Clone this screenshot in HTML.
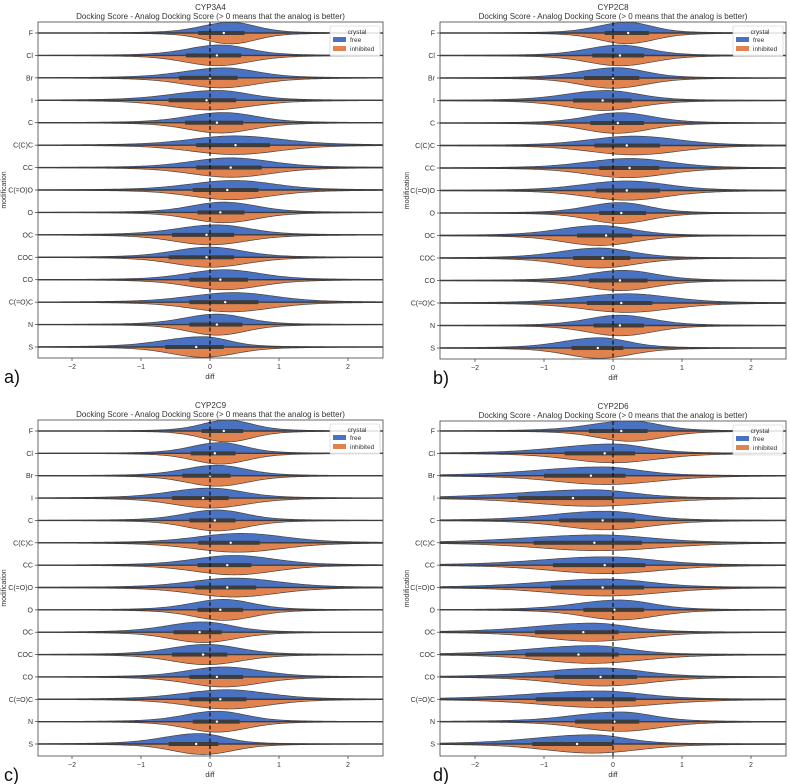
<!DOCTYPE html>
<html><head><meta charset="utf-8"><style>
html,body{margin:0;padding:0;background:#fff;}
svg{display:block;font-family:"Liberation Sans","DejaVu Sans",sans-serif;}
</style></head><body>
<svg id="fig" width="790" height="784" viewBox="0 0 790 784" xmlns="http://www.w3.org/2000/svg"></svg>
<script>
const categories = ["F","Cl","Br","I","C","C(C)C","CC","C(=O)O","O","OC","COC","CO","C(=O)C","N","S"];
const xTicks = [-2,-1,0,1,2];
const xTickLabels = ["\u22122","\u22121","0","1","2"];
const panelTitles = ["CYP3A4","CYP2C8","CYP2C9","CYP2D6"];
const panelLetters = ["a)","b)","c)","d)"];

// Panel a CYP3A4
const aFreeMode=[.3,.15,.2,.1,.2,.35,.3,.35,.2,.1,0,.2,.35,.1,-.1];
const aFreeSdL=[.4,.45,.55,.6,.5,.6,.55,.6,.45,.55,.5,.5,.6,.45,.55];
const aFreeSdR=[.35,.4,.45,.45,.45,.65,.55,.55,.45,.45,.45,.5,.55,.4,.35];
const aInhMode=[.3,.1,.15,0,.15,.35,.3,.3,.2,0,0,.2,.3,.1,-.1];
const aInhSd=[.35,.45,.5,.55,.45,.6,.55,.55,.45,.5,.5,.5,.55,.4,.45];
const aQ1=[-.17,-.35,-.45,-.6,-.36,-.2,-.2,-.25,-.18,-.55,-.6,-.3,-.3,-.3,-.65];
const aMed=[.2,.1,0,-.05,.1,.37,.3,.25,.15,-.05,-.05,.15,.22,.1,-.2];
const aQ3=[.5,.45,.4,.38,.48,.87,.75,.7,.5,.35,.35,.55,.7,.47,.2];
// Panel b CYP2C8
const bFreeMode=[.2,.1,.05,-.1,.1,.3,.25,.2,.1,-.2,-.2,.15,.2,.1,-.2];
const bFreeSdL=[.4,.45,.5,.55,.45,.6,.6,.6,.45,.55,.55,.5,.65,.45,.5];
const bFreeSdR=[.35,.4,.4,.45,.45,.6,.55,.55,.4,.45,.45,.45,.6,.45,.4];
const bInhMode=[.2,.1,0,-.15,.05,.3,.2,.2,.1,-.2,-.2,.1,.2,.1,-.2];
const bInhSd=[.38,.45,.45,.5,.45,.6,.55,.55,.42,.5,.5,.48,.6,.45,.45];
const bQ1=[-.12,-.3,-.42,-.58,-.33,-.27,-.2,-.25,-.2,-.52,-.58,-.35,-.38,-.28,-.6];
const bMed=[.22,.1,0,-.15,.07,.2,.24,.2,.12,-.1,-.15,.1,.12,.1,-.22];
const bQ3=[.52,.45,.38,.27,.45,.68,.67,.68,.48,.28,.25,.5,.57,.45,.15];
// Panel c CYP2C9
const cFreeMode=[.25,.15,.1,0,.1,.45,.35,.35,.2,-.1,-.05,.2,.25,.1,-.15];
const cFreeSdL=[.35,.4,.45,.55,.45,.6,.55,.6,.45,.5,.5,.5,.6,.45,.5];
const cFreeSdR=[.35,.35,.4,.45,.4,.6,.55,.6,.4,.4,.45,.5,.55,.4,.35];
const cInhMode=[.25,.15,.1,0,.1,.4,.35,.35,.2,-.1,-.05,.2,.25,.1,-.1];
const cInhSd=[.35,.38,.42,.5,.42,.6,.55,.58,.42,.45,.48,.5,.55,.42,.42];
const cQ1=[-.12,-.28,-.4,-.55,-.3,-.17,-.18,-.22,-.18,-.53,-.55,-.3,-.3,-.25,-.6];
const cMed=[.2,.07,0,-.1,.07,.3,.25,.25,.15,-.15,-.1,.1,.15,.1,-.2];
const cQ3=[.48,.37,.3,.27,.37,.72,.6,.67,.48,.17,.25,.48,.53,.43,.12];
// Panel d CYP2D6
const dFreeMode=[.25,0,-.15,-.3,-.1,-.2,-.1,-.1,.1,-.3,-.3,-.15,-.2,.1,-.3];
const dFreeSdL=[.55,.75,.9,1.0,.75,1.0,.9,.9,.6,.8,.85,.8,.95,.65,.8];
const dFreeSdR=[.4,.45,.5,.55,.5,.7,.65,.6,.45,.5,.5,.55,.6,.45,.45];
const dInhMode=[.25,0,-.1,-.3,-.1,-.2,-.1,-.1,.1,-.3,-.3,-.15,-.2,.1,-.3];
const dInhSd=[.45,.6,.7,.8,.6,.85,.75,.75,.5,.65,.7,.65,.8,.55,.65];
const dQ1=[-.35,-.7,-1.0,-1.38,-.78,-1.15,-.87,-.9,-.43,-1.13,-1.27,-.85,-1.12,-.55,-1.17];
const dMed=[.12,-.12,-.32,-.58,-.15,-.27,-.12,-.15,.02,-.43,-.5,-.18,-.3,.02,-.52];
const dQ3=[.5,.32,.18,0,.32,.42,.47,.45,.45,.08,.08,.35,.33,.38,0];

const panelData=[
 {fm:aFreeMode,fl:aFreeSdL,fr:aFreeSdR,im:aInhMode,is:aInhSd,q1:aQ1,md:aMed,q3:aQ3},
 {fm:bFreeMode,fl:bFreeSdL,fr:bFreeSdR,im:bInhMode,is:bInhSd,q1:bQ1,md:bMed,q3:bQ3},
 {fm:cFreeMode,fl:cFreeSdL,fr:cFreeSdR,im:cInhMode,is:cInhSd,q1:cQ1,md:cMed,q3:cQ3},
 {fm:dFreeMode,fl:dFreeSdL,fr:dFreeSdR,im:dInhMode,is:dInhSd,q1:dQ1,md:dMed,q3:dQ3}
];
const layouts=[
 {L:38,R:383,T:22,B:358,x0:210,yF:33,yS:347,ox:0,oy:0},
 {L:440,R:786,T:22,B:359,x0:613,yF:33,yS:348,ox:403,oy:0},
 {L:38,R:383,T:420,B:756,x0:210,yF:431,yS:744,ox:0,oy:398},
 {L:440,R:786,T:421,B:756,x0:613,yF:431,yS:744,ox:403,oy:398}
];
const NS="http://www.w3.org/2000/svg";
const svg=document.getElementById("fig");
function mk(tag,attrs,parent){const e=document.createElementNS(NS,tag);for(const k in attrs)e.setAttribute(k,attrs[k]);(parent||svg).appendChild(e);return e;}
function dens(v,m,sl,sr){const s=v<m?sl:sr;const z=(v-m)/s;return 0.85*Math.exp(-z*z/2)+0.15*Math.exp(-z*z/(2*6.25));}

layouts.forEach((Lo,p)=>{
  const D=panelData[p];
  const unit=69;
  const xs=v=>Lo.x0+v*unit;
  const ys=i=>Lo.yF+i*(Lo.yS-Lo.yF)/(categories.length-1);
  const g=mk("g",{});
  
  
  const cid="clip"+p;
  const cp=mk("clipPath",{id:cid},g);mk("rect",{x:Lo.L,y:Lo.T,width:Lo.R-Lo.L,height:Lo.B-Lo.T},cp);
  const plot=mk("g",{"clip-path":"url(#"+cid+")"},g);
  const vmin=(Lo.L-Lo.x0)/unit, vmax=(Lo.R-Lo.x0)/unit;
  categories.forEach((c,i)=>{
    const cy=ys(i);
    const hf=Math.max(7.5,13-3*(D.fl[i]+D.fr[i]));
    const hi=Math.max(7.5,13-3*(2*D.is[i]));
    let top="",bot="";
    for(let k=0;k<=160;k++){const v=vmin+(vmax-vmin)*k/160;
      top+=(k?"L":"M")+xs(v).toFixed(1)+","+(cy-hf*dens(v,D.fm[i],D.fl[i],D.fr[i])).toFixed(2);
      bot+=(k?"L":"M")+xs(v).toFixed(1)+","+(cy+hi*dens(v,D.im[i],D.is[i],D.is[i])).toFixed(2);}
    const f=mk("path",{d:top+"L"+Lo.R+","+cy+"L"+Lo.L+","+cy+"Z",fill:"#4a72c2",stroke:"#444",
      "stroke-width":"0.7"},plot);
    
    
    const h=mk("path",{d:bot+"L"+Lo.R+","+cy+"L"+Lo.L+","+cy+"Z",fill:"#e1834e",stroke:"#444","stroke-width":"0.7"},plot);
    
    
    mk("line",{x1:Lo.L,x2:Lo.R,y1:cy,y2:cy,stroke:"#3d3d3d","stroke-width":"1.4"},plot);
    const bx=mk("rect",{x:xs(D.q1[i]),y:cy-2,width:(D.q3[i]-D.q1[i])*unit,height:4,fill:"#3d3d3d"},plot);
    
    
    mk("circle",{cx:xs(D.md[i]),cy:cy,r:1.2,fill:"#fff"},plot);
    mk("line",{x1:Lo.L-3,x2:Lo.L,y1:cy,y2:cy,stroke:"#333","stroke-width":"0.7"},g);
    const t=mk("text",{x:Lo.L-5,y:cy+2.5,"font-size":"7","text-anchor":"end",fill:"#333"},g);t.textContent=c;
    
    
  });
  mk("line",{x1:Lo.x0,x2:Lo.x0,y1:Lo.T,y2:Lo.B,stroke:"#111","stroke-width":"1.2","stroke-dasharray":"4,2.5"},g);
  const fr=mk("rect",{x:Lo.L,y:Lo.T,width:Lo.R-Lo.L,height:Lo.B-Lo.T,fill:"none",stroke:"#444","stroke-width":"0.8"},g);
  
  
  xTicks.forEach((v,k)=>{
    mk("line",{x1:xs(v),x2:xs(v),y1:Lo.B,y2:Lo.B+3,stroke:"#333","stroke-width":"0.7"},g);
    const t=mk("text",{x:xs(v),y:Lo.B+11,"font-size":"7","text-anchor":"middle",fill:"#333"},g);t.textContent=xTickLabels[k];
    
    
  });
  const xl=mk("text",{x:Lo.x0,y:Lo.B+21,"font-size":"7","text-anchor":"middle",fill:"#333"},g);xl.textContent="diff";
  
  
  const ly=(Lo.T+Lo.B)/2, lx=Lo.ox+6;
  const yl=mk("text",{x:lx,y:ly,"font-size":"7","text-anchor":"middle",fill:"#333",transform:"rotate(-90 "+lx+" "+ly+")"},g);yl.textContent="modification";
  
  
  const cx=(Lo.L+Lo.R)/2;
  const t1=mk("text",{x:cx,y:Lo.T-12,"font-size":"8","text-anchor":"middle",fill:"#333"},g);t1.textContent=panelTitles[p];
  
  
  const t2=mk("text",{x:cx,y:Lo.T-3,"font-size":"8","text-anchor":"middle",fill:"#333"},g);t2.textContent="Docking Score - Analog Docking Score (> 0 means that the analog is better)";
  
  
  const lg=mk("g",{},g);
  
  
  const lx0=Lo.R-53, ly0=Lo.T+4;
  mk("rect",{x:lx0,y:ly0,width:50,height:30,fill:"#fff","fill-opacity":"0.85",stroke:"#ccc","stroke-width":"0.6",rx:1.5},lg);
  const lt=mk("text",{x:lx0+27,y:ly0+8,"font-size":"6.5","text-anchor":"middle",fill:"#333"},lg);lt.textContent="crystal";
  mk("rect",{x:lx0+3,y:ly0+11,width:13,height:5,fill:"#4a72c2"},lg);
  const e1=mk("text",{x:lx0+20,y:ly0+16,"font-size":"6.5",fill:"#333"},lg);e1.textContent="free";
  
  
  mk("rect",{x:lx0+3,y:ly0+20,width:13,height:5,fill:"#e1834e"},lg);
  const e2=mk("text",{x:lx0+20,y:ly0+25,"font-size":"6.5",fill:"#333"},lg);e2.textContent="inhibited";
  
  
  const pl=mk("text",{x:Lo.ox+(p%2?30:4),y:Lo.B+25,"font-size":"18",fill:"#111"},svg);pl.textContent=panelLetters[p];
  
  
});
</script>
</body></html>
